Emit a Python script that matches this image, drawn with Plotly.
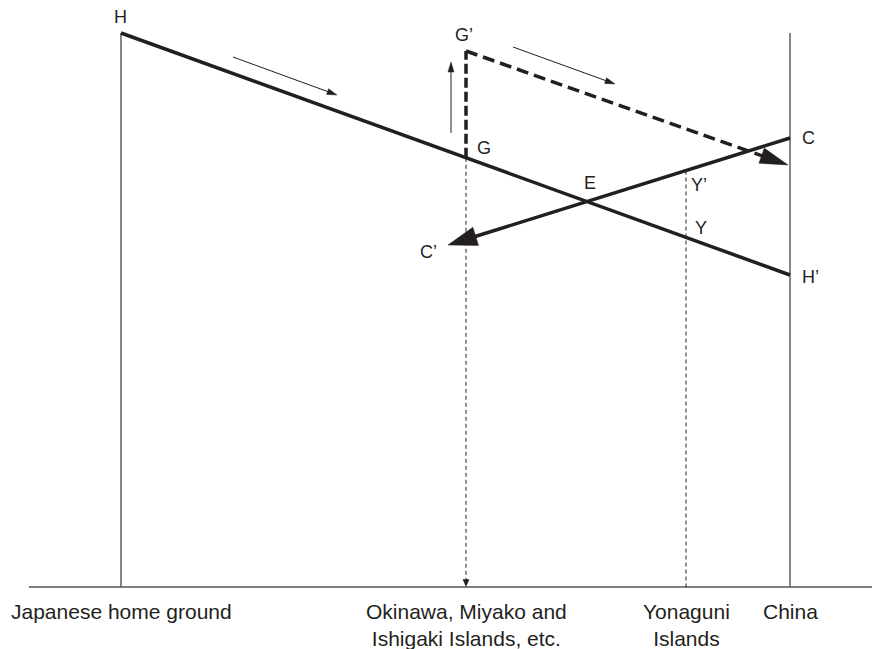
import numpy as np
import plotly.graph_objects as go

# ---- data (diagram coordinates: x = distance along route, y = cost above baseline) ----
region_names = ["Japanese home ground", "Okinawa, Miyako and<br>Ishigaki Islands, etc.",
                "Yonaguni<br>Islands", "China"]
region_x = [121, 466, 686, 790]

home_x = [121, 790]          # H -> H'
home_y = [554, 312]
china_x = [790, 448]         # C -> C'
china_y = [449, 342]
gprime_y = 536               # G' height
shift_end = [788, 422]       # end of dashed G' line (arrow tip)
axis_top = 554
axis_left = 29
axis_right = 880

# small direction arrows (tail x, tail y, head x, head y)
dir_arrows = [
    (233, 530, 337, 492),
    (451, 454, 451, 525),
    (513, 540, 615, 503),
]

INK = "#231f20"
GREY = "#555555"
FONT = "Liberation Sans, Arial, Helvetica"


def y_on(xs, ys, x):
    return ys[0] + (ys[1] - ys[0]) * (x - xs[0]) / (xs[1] - xs[0])


def tri(tip, tail, length, width):
    tip = np.array(tip, float); tail = np.array(tail, float)
    d = tip - tail; d /= np.linalg.norm(d)
    n = np.array([-d[1], d[0]])
    b = tip - d * length
    p1 = b + n * width / 2; p2 = b - n * width / 2
    return [tip[0], p1[0], p2[0], tip[0]], [tip[1], p1[1], p2[1], tip[1]]


fig = go.Figure()


def line(xs, ys, color=INK, width=1, dash="solid"):
    fig.add_trace(go.Scatter(x=xs, y=ys, mode="lines", hoverinfo="skip",
                             line=dict(color=color, width=width, dash=dash)))


def head(tip, tail, length, width, color=INK):
    tx, ty = tri(tip, tail, length, width)
    fig.add_trace(go.Scatter(x=tx, y=ty, mode="lines", fill="toself", fillcolor=color,
                             line=dict(color=color, width=0.5), hoverinfo="skip"))


xG, xY = region_x[1], region_x[2]
yG = y_on(home_x, home_y, xG)
yY = y_on(home_x, home_y, xY)
yYp = y_on(china_x, china_y, xY)

# baseline and verticals
line([axis_left, axis_right], [0, 0], GREY, 1.6)
line([region_x[0], region_x[0]], [0, axis_top], GREY, 1.4)
line([region_x[3], region_x[3]], [0, axis_top], GREY, 1.4)

# dotted drop lines
line([xG, xG], [yG, 6], INK, 1, "4px,3px")
head((xG, 0.5), (xG, 10), 7, 6)
line([xY, xY], [yYp, 0], INK, 1, "4px,3px")

# H-H' line
line(home_x, home_y, INK, 3.5)

# C-C' line with arrowhead
tipC = (china_x[1], china_y[1])
d = np.array([china_x[0] - china_x[1], china_y[0] - china_y[1]], float)
d /= np.linalg.norm(d)
line([china_x[0], china_x[1] + d[0] * 20], [china_y[0], china_y[1] + d[1] * 20], INK, 3.5)
head(tipC, (china_x[0], china_y[0]), 29, 19)

# dashed G -> G' -> C
line([xG, xG], [yG, gprime_y], INK, 3.5, "10px,4px")
de = np.array([shift_end[0] - xG, shift_end[1] - gprime_y], float)
de /= np.linalg.norm(de)
line([xG, shift_end[0] - de[0] * 20], [gprime_y, shift_end[1] - de[1] * 20], INK, 3.5, "12px,6px")
head(tuple(shift_end), (xG, gprime_y), 28, 16)

# small direction arrows
for x0, y0, x1, y1 in dir_arrows:
    dd = np.array([x1 - x0, y1 - y0], float); dd /= np.linalg.norm(dd)
    line([x0, x1 - dd[0] * 6], [y0, y1 - dd[1] * 6], INK, 1)
    head((x1, y1), (x0, y0), 10, 6)

# point labels
labels = [
    ("H", 120, 570), ("G\u2019", 464, 552), ("G", 484, 439), ("E", 590, 404),
    ("C", 808, 449), ("Y\u2019", 699, 402), ("Y", 701, 359), ("C\u2019", 428, 335),
    ("H\u2019", 810, 310),
]
for t, x, y in labels:
    fig.add_annotation(x=x, y=y, text=t, showarrow=False,
                       font=dict(family=FONT, size=18, color=INK),
                       xanchor="center", yanchor="middle")

for name, x in zip(region_names, region_x):
    fig.add_annotation(x=x, y=-11, text=name, showarrow=False, align="center",
                       font=dict(family=FONT, size=21, color=INK),
                       xanchor="center", yanchor="top")

fig.update_layout(width=872, height=649, margin=dict(l=0, r=0, t=0, b=0),
                  paper_bgcolor="white", plot_bgcolor="white", showlegend=False,
                  hovermode=False, dragmode=False)
fig.update_xaxes(range=[0, 872], visible=False, fixedrange=True)
fig.update_yaxes(range=[-62, 587], visible=False, fixedrange=True)
fig.write_html("out.html", config={"displayModeBar": False, "staticPlot": True},
               post_script="document.body.style.margin='0';document.body.style.overflow='hidden';")
